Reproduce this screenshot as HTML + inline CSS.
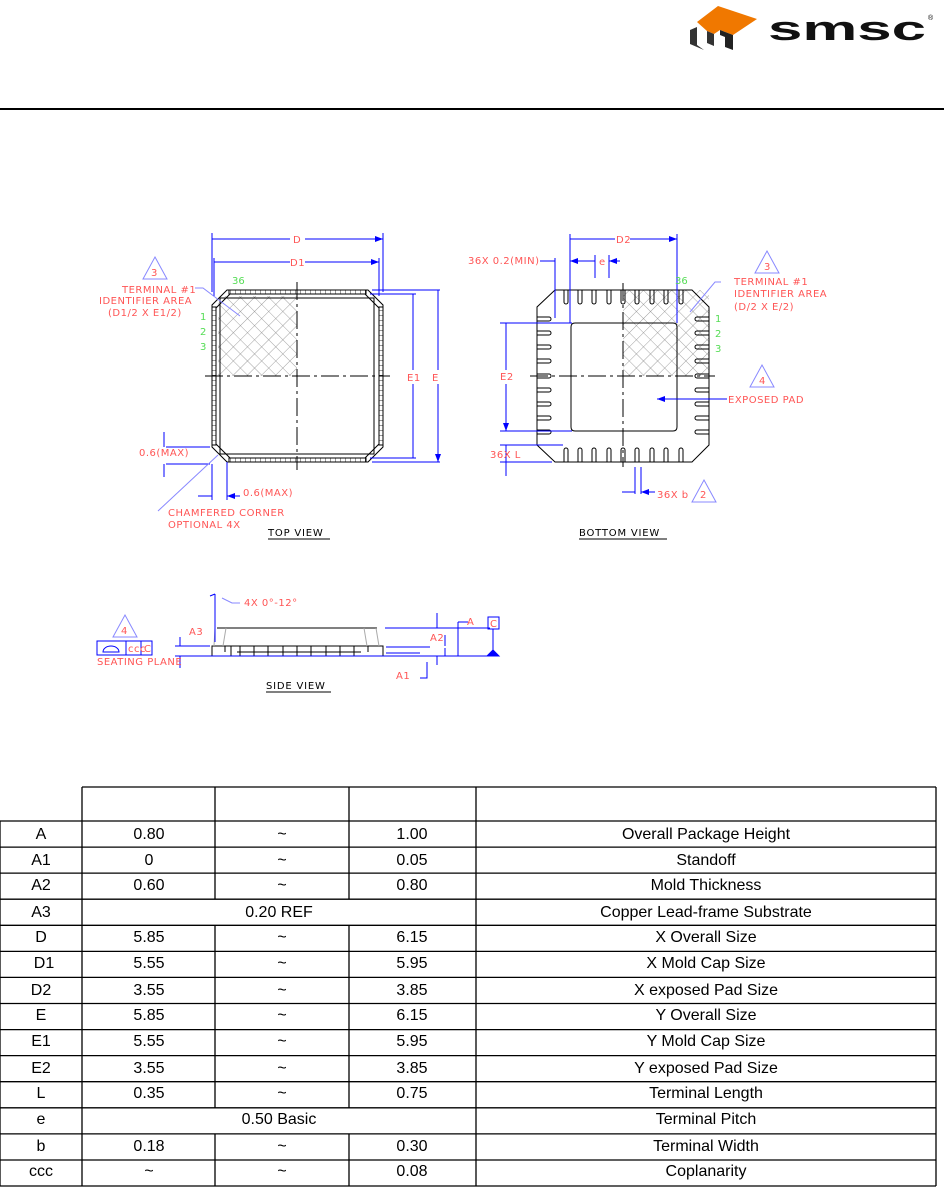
<!DOCTYPE html>
<html><head><meta charset="utf-8"><style>
html,body{margin:0;padding:0;background:#fff;width:944px;height:1187px;overflow:hidden}
svg{display:block}
.r{fill:#f55;font-family:"DejaVu Sans",sans-serif;font-size:10px;letter-spacing:0.5px}
.g{fill:#5d5;font-family:"DejaVu Sans",sans-serif;font-size:10px}
.t{font-family:"Liberation Sans",Arial,sans-serif;font-size:16px;fill:#000;text-anchor:middle}
</style></head><body>
<svg width="944" height="1187" viewBox="0 0 944 1187" xmlns="http://www.w3.org/2000/svg">
<defs>
<pattern id="hx" width="10" height="10" patternUnits="userSpaceOnUse" patternTransform="rotate(45)">
<path d="M0 0H10M0 0V10" stroke="#888" stroke-width="0.8"/></pattern>
<pattern id="vt" width="5" height="10" patternUnits="userSpaceOnUse"><path d="M0 0V10" stroke="#000" stroke-width="0.8"/></pattern>
<pattern id="ht" width="10" height="5" patternUnits="userSpaceOnUse"><path d="M0 0H10" stroke="#000" stroke-width="0.8"/></pattern>
<marker id="ar" markerWidth="8" markerHeight="6" refX="8" refY="3" orient="auto"><path d="M0 0L8 3L0 6z" fill="#00f"/></marker>
</defs>
<!-- logo -->
<path d="M697 22 L718 6 L757 19 L733 35 L720 30 L714 34 L707 31 Z" fill="#f07800"/>
<path d="M707 31 L714 34 L714 46 L707 43Z" fill="#333"/>
<path d="M690 30 L697 27 L697 45 L704 50 L690 44 Z" fill="#333"/>
<path d="M720 30 L733 35 L733 50 L725 47 L725 37 L720 35Z" fill="#222"/>
<text x="768" y="40" font-family="Liberation Sans,sans-serif" font-weight="bold" font-size="34" fill="#111" textLength="158" lengthAdjust="spacingAndGlyphs">smsc</text>
<text x="928" y="20" font-size="7" font-family="Liberation Sans,sans-serif">®</text>
<rect x="0" y="108" width="944" height="2" fill="#000"/>

<!-- TOP VIEW -->
<g fill="none" stroke="#000" stroke-width="1">
<rect x="218" y="296" width="79" height="80" fill="url(#hx)" stroke="none"/>
<path d="M227 290H368L383 305V447L368 462H227L212 447V305Z"/>
<path d="M230 294H365L379 308V444L365 458H230L216 444V308Z"/>
<rect x="229" y="290" width="137" height="4" fill="url(#vt)"/>
<rect x="229" y="458" width="137" height="4" fill="url(#vt)"/>
<rect x="212" y="307" width="4" height="138" fill="url(#ht)"/>
<rect x="379" y="307" width="4" height="138" fill="url(#ht)"/>
<path d="M220 298H374V454H220Z"/>
<path d="M205 376H390M297 282V470" stroke-dasharray="18 4 3 4"/>
</g>
<g stroke="#00f" fill="none" stroke-width="1">
<path d="M212 233V292M383 233V292M214 258V296M379 258V296"/>
<path d="M290 239H212M305 239H383" marker-end="url(#ar)"/>
<path d="M290 262H214M305 262H379" marker-end="url(#ar)"/>
<path d="M372 290H440M372 462H440M370 294H416M370 458H416"/>
<path d="M413 370V294M413 384V458M438 370V290M438 384V462" marker-end="url(#ar)"/>
<path d="M166 447H210M166 464H210M164 432V447M164 477V464" />
<path d="M212 464V500M227 462V500"/>
<path d="M198 496H212M240 496H227" marker-end="url(#ar)"/>
<path d="M158 511L218 455" stroke="#88f"/>
<path d="M195 288H203L240 316" stroke="#88f"/>
</g>
<path d="M155 257L167 279H143Z" fill="none" stroke="#88f"/>
<text class="r" x="151" y="276">3</text>
<text class="r" x="293" y="243">D</text><text class="r" x="290" y="266">D1</text>
<text class="r" x="407" y="381">E1</text><text class="r" x="432" y="381">E</text>
<text class="g" x="232" y="284">36</text>
<text class="g" x="200" y="320">1</text><text class="g" x="200" y="335">2</text><text class="g" x="200" y="350">3</text>
<text class="r" x="122" y="293">TERMINAL #1</text>
<text class="r" x="99" y="304">IDENTIFIER AREA</text>
<text class="r" x="108" y="316">(D1/2 X E1/2)</text>
<text class="r" x="139" y="456">0.6(MAX)</text>
<text class="r" x="243" y="496">0.6(MAX)</text>
<text class="r" x="168" y="516">CHAMFERED CORNER</text>
<text class="r" x="168" y="528">OPTIONAL 4X</text>
<text x="268" y="536" font-family="DejaVu Sans,sans-serif" font-size="10" letter-spacing="0.8">TOP VIEW</text>
<path d="M268 539H330" stroke="#000"/>

<!-- BOTTOM VIEW -->
<g fill="none" stroke="#000" stroke-width="1">
<rect x="623" y="290" width="86" height="86" fill="url(#hx)" stroke="none"/>
<path d="M555 290H692L709 307V445L692 462H555L537 445V307Z"/>
<path d="M575 323H673Q677 323 677 327V427Q677 431 673 431H575Q571 431 571 427V327Q571 323 575 323Z"/>
<path d="M530 376H715M623 283V467" stroke-dasharray="18 4 3 4"/>
<g id="tp">
<path d="M564 290V302A2 2 0 0 0 568 302V290M578 290V302A2 2 0 0 0 582 302V290M592 290V302A2 2 0 0 0 596 302V290M607 290V302A2 2 0 0 0 611 302V290M621 290V302A2 2 0 0 0 625 302V290M635 290V302A2 2 0 0 0 639 302V290M650 290V302A2 2 0 0 0 654 302V290M664 290V302A2 2 0 0 0 668 302V290M679 290V302A2 2 0 0 0 683 302V290"/>
</g>
<use href="#tp" transform="translate(0 752) scale(1 -1)"/>
<g id="lp">
<path d="M537 317H549A2 2 0 0 1 549 321H537M537 331H549A2 2 0 0 1 549 335H537M537 345H549A2 2 0 0 1 549 349H537M537 359H549A2 2 0 0 1 549 363H537M537 374H549A2 2 0 0 1 549 378H537M537 388H549A2 2 0 0 1 549 392H537M537 402H549A2 2 0 0 1 549 406H537M537 416H549A2 2 0 0 1 549 420H537M537 430H549A2 2 0 0 1 549 434H537"/>
</g>
<use href="#lp" transform="translate(1246 0) scale(-1 1)"/>
</g>
<g stroke="#00f" fill="none" stroke-width="1">
<path d="M570 234V323M677 234V323M555 258V318M595 255V278M609 255V278"/>
<path d="M615 239H570M630 239H677" marker-end="url(#ar)"/>
<path d="M540 261H555M585 261H570" marker-end="url(#ar)"/>
<path d="M585 261H595M620 261H609" marker-end="url(#ar)"/>
<path d="M500 323H572M500 431H572M500 445H563M500 462H552"/>
<path d="M506 370V323M506 384V431" marker-end="url(#ar)"/>
<path d="M506 445V476M506 462V476"/>
<path d="M635 467V494M641 467V494"/>
<path d="M622 492H635M655 492H641" marker-end="url(#ar)"/>
<path d="M727 399H657" marker-end="url(#ar)"/>
<path d="M721 282H715L690 312" stroke="#88f"/>
</g>
<path d="M767 251L779 273H755Z" fill="none" stroke="#88f"/>
<text class="r" x="764" y="270">3</text>
<path d="M762 365L774 387H750Z" fill="none" stroke="#88f"/>
<text class="r" x="759" y="384">4</text>
<path d="M704 480L716 502H692Z" fill="none" stroke="#88f"/>
<text class="r" x="700" y="498">2</text>
<text class="r" x="616" y="243">D2</text><text class="r" x="599" y="265">e</text>
<text class="r" x="468" y="264">36X 0.2(MIN)</text>
<text class="g" x="675" y="284">36</text>
<text class="g" x="715" y="322">1</text><text class="g" x="715" y="337">2</text><text class="g" x="715" y="352">3</text>
<text class="r" x="734" y="285">TERMINAL #1</text>
<text class="r" x="734" y="297">IDENTIFIER AREA</text>
<text class="r" x="734" y="310">(D/2 X E/2)</text>
<text class="r" x="728" y="403">EXPOSED PAD</text>
<text class="r" x="500" y="380">E2</text>
<text class="r" x="490" y="458">36X L</text>
<text class="r" x="657" y="498">36X b</text>
<text x="579" y="536" font-family="DejaVu Sans,sans-serif" font-size="10" letter-spacing="0.8">BOTTOM VIEW</text>
<path d="M579 539H667" stroke="#000"/>

<!-- SIDE VIEW -->
<g fill="none" stroke="#000" stroke-width="1">
<path d="M217 628H377"/>
<rect x="212" y="646" width="171" height="10"/>
<path d="M225 646V652M231 646V656M240 646V656M254 646V656M268 646V656M283 646V656M297 646V656M311 646V656M326 646V656M340 646V656M354 646V656M368 646V652M237 652H361"/>
<path d="M215 628L214 646M226 628L223 646M364 628L367 646M376 628L379 646" stroke="#aaa"/>
</g>
<g stroke="#00f" fill="none" stroke-width="1">
<path d="M175 646H210M175 656H490M385 628H490M386 647H430M386 653H420"/>
<path d="M215 594V642M210 596L215 594"/>
<path d="M180 637V646M180 668V656M437 613V628M437 665V656M445 635V646M445 648V656M458 622V656"/>
<path d="M458 622H468M427 662V678H420"/>
<rect x="488" y="617" width="11" height="12"/>
<path d="M493 629V656"/><path d="M487 656L493 650L499 656Z" fill="#00f"/>
<rect x="97" y="641" width="55" height="14"/>
<path d="M126 641V655M141 641V655"/>
<path d="M103 652A8 6 0 0 1 119 652Z"/>
<path d="M222 598L232 603H240" stroke="#88f"/>
</g>
<path d="M125 615L137 637H113Z" fill="none" stroke="#88f"/>
<text class="r" x="121" y="634">4</text>
<text class="r" x="128" y="652" font-size="8">ccc</text>
<text class="r" x="144" y="652" font-size="9">C</text>
<text class="r" x="97" y="665" font-size="9">SEATING PLANE</text>
<text class="r" x="189" y="635">A3</text>
<text class="r" x="244" y="606">4X 0°-12°</text>
<text class="r" x="430" y="641">A2</text>
<text class="r" x="467" y="625">A</text>
<text class="r" x="490" y="627" font-size="9">C</text>
<text class="r" x="396" y="679">A1</text>
<text x="266" y="689" font-family="DejaVu Sans,sans-serif" font-size="10" letter-spacing="0.8">SIDE VIEW</text>
<path d="M266 692H331" stroke="#000"/>

<!-- TABLE -->
<g stroke="#000" stroke-width="1.3" fill="none">
<path d="M82 787H936M82 787V821M936 787V1186M0 821V1186M82 821V1186M476 787V1186"/>
<path d="M215 787V899.2M215 925.3V1107.8M215 1133.9V1186"/>
<path d="M349 787V899.2M349 925.3V1107.8M349 1133.9V1186"/>
<path d="M0 821H936M0 847.1H936M0 873.1H936M0 899.2H936M0 925.3H936M0 951.4H936M0 977.4H936M0 1003.5H936M0 1029.6H936M0 1055.6H936M0 1081.7H936M0 1107.8H936M0 1133.9H936M0 1160H936M0 1186H936"/>
</g>
<g class="t">
<text x="41" y="839">A</text><text x="149" y="839">0.80</text><text x="282" y="839">~</text><text x="412" y="839">1.00</text><text x="706" y="839">Overall Package Height</text>
<text x="41" y="865">A1</text><text x="149" y="865">0</text><text x="282" y="865">~</text><text x="412" y="865">0.05</text><text x="706" y="865">Standoff</text>
<text x="41" y="890">A2</text><text x="149" y="890">0.60</text><text x="282" y="890">~</text><text x="412" y="890">0.80</text><text x="706" y="890">Mold Thickness</text>
<text x="41" y="917">A3</text><text x="279" y="917">0.20 REF</text><text x="706" y="917">Copper Lead-frame Substrate</text>
<text x="41" y="942">D</text><text x="149" y="942">5.85</text><text x="282" y="942">~</text><text x="412" y="942">6.15</text><text x="706" y="942">X Overall Size</text>
<text x="44" y="968">D1</text><text x="149" y="968">5.55</text><text x="282" y="968">~</text><text x="412" y="968">5.95</text><text x="706" y="968">X Mold Cap Size</text>
<text x="41" y="995">D2</text><text x="149" y="995">3.55</text><text x="282" y="995">~</text><text x="412" y="995">3.85</text><text x="706" y="995">X exposed Pad Size</text>
<text x="41" y="1020">E</text><text x="149" y="1020">5.85</text><text x="282" y="1020">~</text><text x="412" y="1020">6.15</text><text x="706" y="1020">Y Overall Size</text>
<text x="41" y="1046">E1</text><text x="149" y="1046">5.55</text><text x="282" y="1046">~</text><text x="412" y="1046">5.95</text><text x="706" y="1046">Y Mold Cap Size</text>
<text x="41" y="1073">E2</text><text x="149" y="1073">3.55</text><text x="282" y="1073">~</text><text x="412" y="1073">3.85</text><text x="706" y="1073">Y exposed Pad Size</text>
<text x="41" y="1098">L</text><text x="149" y="1098">0.35</text><text x="282" y="1098">~</text><text x="412" y="1098">0.75</text><text x="706" y="1098">Terminal Length</text>
<text x="41" y="1124">e</text><text x="279" y="1124">0.50 Basic</text><text x="706" y="1124">Terminal Pitch</text>
<text x="41" y="1151">b</text><text x="149" y="1151">0.18</text><text x="282" y="1151">~</text><text x="412" y="1151">0.30</text><text x="706" y="1151">Terminal Width</text>
<text x="41" y="1176">ccc</text><text x="149" y="1176">~</text><text x="282" y="1176">~</text><text x="412" y="1176">0.08</text><text x="706" y="1176">Coplanarity</text>
</g>
</svg>
</body></html>
